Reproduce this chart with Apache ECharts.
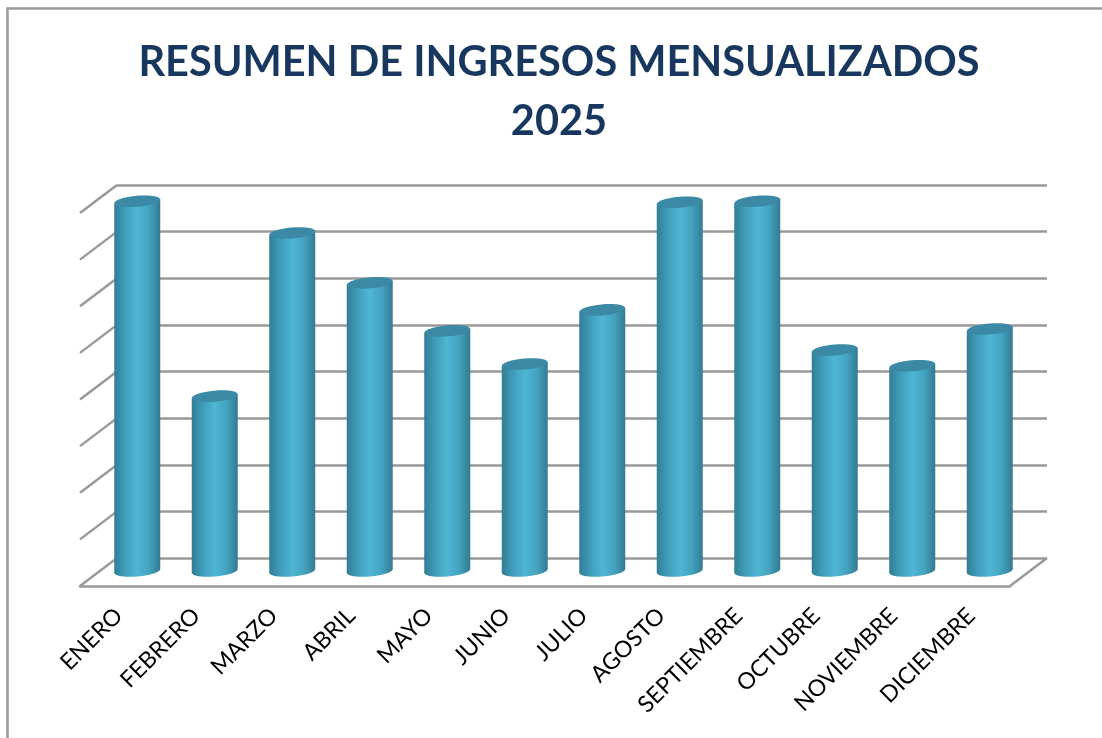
<!DOCTYPE html>
<html>
<head>
<meta charset="utf-8">
<style>
html, body { margin: 0; padding: 0; background: #fff; }
#main { width: 1102px; height: 738px; }
</style>
<script src="https://cdn.jsdelivr.net/npm/echarts@6/dist/echarts.min.js"></script>
</head>
<body>
<div id="main"></div>
<script>
const titleLines = ['RESUMEN DE INGRESOS MENSUALIZADOS', '2025'];
const months = ['ENERO', 'FEBRERO', 'MARZO', 'ABRIL', 'MAYO', 'JUNIO', 'JULIO', 'AGOSTO', 'SEPTIEMBRE', 'OCTUBRE', 'NOVIEMBRE', 'DICIEMBRE'];
// no scale is printed on the chart, so values are in gridline units
const ingresos = [7.93, 3.75, 7.25, 6.18, 5.15, 4.44, 5.6, 7.91, 7.93, 4.74, 4.4, 5.19];
const gridLevels = [0, 1, 2, 3, 4, 5, 6, 7, 8];

// the fake 3D depth: back wall sits this far from the front plane
const DEPTH_X = 37;
const DEPTH_Y = 28;
const GRID_COLOR = '#999999';

const chart = echarts.init(document.getElementById('main'));

function renderWall(params, api) {
    const level = api.value(0);
    const sys = params.coordSys;
    const y = api.coord([0, level])[1];
    const style = { stroke: GRID_COLOR, lineWidth: 2.5, fill: null };
    const children = [{
        type: 'line',
        shape: { x1: sys.x, y1: y, x2: sys.x - DEPTH_X, y2: y + DEPTH_Y },
        style: style
    }];
    if (level === 0) {
        children.push({
            type: 'line',
            shape: { x1: sys.x + sys.width, y1: y, x2: sys.x + sys.width - DEPTH_X, y2: y + DEPTH_Y },
            style: style
        });
    }
    return { type: 'group', children: children };
}

function renderCylinder(params, api) {
    const top = api.coord([api.value(0), api.value(1)]);
    const base = api.coord([api.value(0), 0]);
    // cylinders stand halfway between the back wall and the front edge
    const cx = top[0] - DEPTH_X / 2;
    const yt = top[1] + DEPTH_Y / 2 - 1;
    const yb = base[1] + DEPTH_Y / 2 - 1;
    const rx = 23;
    const ry = 5.5;
    const tilt = 0.085; // zrender rotates counter-clockwise, right end goes up
    const lean = rx * Math.sin(tilt);
    const side = new echarts.graphic.LinearGradient(0, 0, 1, 0, [
        { offset: 0, color: '#327d95' },
        { offset: 0.22, color: '#3f9bb7' },
        { offset: 0.5, color: '#4fb6d4' },
        { offset: 0.75, color: '#44a4c0' },
        { offset: 1, color: '#337b92' }
    ]);
    return {
        type: 'group',
        children: [{
            type: 'ellipse',
            x: cx, y: yb, rotation: tilt,
            shape: { cx: 0, cy: 0, rx: rx, ry: ry },
            style: { fill: side }
        }, {
            type: 'polygon',
            shape: { points: [[cx - rx, yt + lean], [cx + rx, yt - lean], [cx + rx, yb - lean], [cx - rx, yb + lean]] },
            style: { fill: side }
        }, {
            type: 'ellipse',
            x: cx, y: yt, rotation: tilt,
            shape: { cx: 0, cy: 0, rx: rx, ry: ry },
            style: { fill: '#3b89a5' }
        }]
    };
}

chart.setOption({
    animation: false,
    backgroundColor: '#fff',
    title: {
        text: titleLines.join('\n'),
        left: 554,
        top: 28,
        textAlign: 'center',
        textStyle: {
            fontFamily: 'Lato',
            fontWeight: 'bold',
            fontSize: 41.5,
            lineHeight: 59,
            color: '#17375e'
        }
    },
    graphic: [{
        type: 'polyline',
        silent: true,
        shape: { points: [[7.5, 738], [7.5, 8.5], [1102, 8.5]] },
        style: { stroke: '#999999', lineWidth: 2.5, fill: null }
    }],
    grid: [
        // front plane, carries the month labels
        { left: 80, right: 92, top: 213, bottom: 152 },
        // back wall, carries the horizontal gridlines
        { left: 117, right: 55, top: 185, bottom: 180 }
    ],
    xAxis: [{
        gridIndex: 0,
        type: 'category',
        data: months,
        axisLine: { lineStyle: { color: GRID_COLOR, width: 2.5 } },
        axisTick: { show: false },
        axisLabel: {
            interval: 0,
            rotate: 45,
            margin: 26,
            fontFamily: 'Lato',
            fontSize: 23,
            color: '#000'
        }
    }, {
        gridIndex: 1,
        type: 'category',
        data: months,
        axisLine: { show: false },
        axisTick: { show: false },
        axisLabel: { show: false }
    }],
    yAxis: [{
        gridIndex: 0,
        type: 'value',
        min: 0,
        max: 8,
        interval: 1,
        show: false
    }, {
        gridIndex: 1,
        type: 'value',
        min: 0,
        max: 8,
        interval: 1,
        axisLine: { show: false },
        axisTick: { show: false },
        axisLabel: { show: false },
        splitLine: { lineStyle: { color: GRID_COLOR, width: 2.5 } }
    }],
    series: [{
        type: 'custom',
        xAxisIndex: 1,
        yAxisIndex: 1,
        z: 1,
        clip: false,
        silent: true,
        renderItem: renderWall,
        data: gridLevels.map(function(l) { return [l]; }),
        encode: { y: 0 }
    }, {
        type: 'custom',
        name: 'Ingresos',
        xAxisIndex: 1,
        yAxisIndex: 1,
        z: 2,
        clip: false,
        renderItem: renderCylinder,
        data: ingresos.map(function(v, i) { return [i, v]; }),
        encode: { x: 0, y: 1 }
    }]
});
</script>
</body>
</html>
